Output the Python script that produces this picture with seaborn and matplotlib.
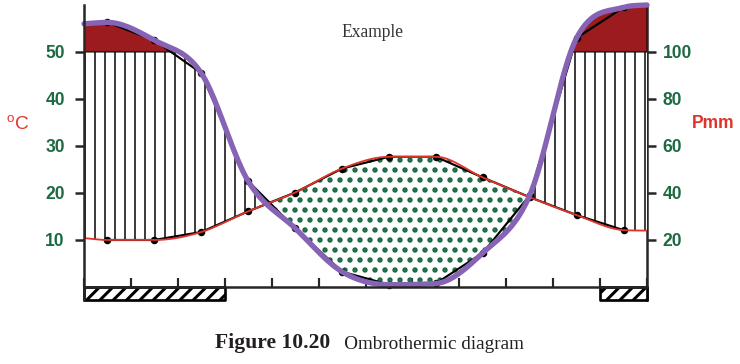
import numpy as np
import matplotlib
matplotlib.use('Agg')
import matplotlib.pyplot as plt
import seaborn as sns

# month centres and climate values
months_mid = np.arange(12) + 0.5
temp_c = [10.0, 10.0, 11.7, 16.1, 20.1, 25.2, 27.7, 27.7, 23.3, 19.1, 15.3, 12.1]
precip_mm = [112.6, 105, 91, 45, 25, 6.5, 1.0, 1.5, 14.5, 39, 106, 119]
temp_ends = [10.4, 12.0]      # where the smooth red curve meets the axes
precip_ends = [112, 120]      # where the smooth purple curve meets the axes
frost = [1, 1, 1, 0, 0, 0, 0, 0, 0, 0, 0, 1]
temp_ticks = [10, 20, 30, 40, 50]
precip_ticks = [20, 40, 60, 80, 100]

GREEN = '#1b6a42'
RED = '#e0342b'
PURPLE = '#8763b5'
DARKRED = '#9b1b1f'


def smooth(x, y, n=400):
    """monotone cubic curve (Fritsch-Carlson) starting from central-difference slopes"""
    x = np.asarray(x, float)
    y = np.asarray(y, float)
    h = np.diff(x)
    d = np.diff(y) / h
    m = np.empty_like(y)
    m[1:-1] = (y[2:] - y[:-2]) / (x[2:] - x[:-2])
    m[0], m[-1] = d[0], d[-1]
    for k in range(len(d)):
        if d[k] == 0:
            m[k] = m[k + 1] = 0
            continue
        a, b = m[k] / d[k], m[k + 1] / d[k]
        if a < 0:
            m[k] = a = 0
        if b < 0:
            m[k + 1] = b = 0
        if a * a + b * b > 9:
            tau = 3 / np.hypot(a, b)
            m[k], m[k + 1] = tau * a * d[k], tau * b * d[k]
    xs = np.linspace(x[0], x[-1], n)
    i = np.clip(np.searchsorted(x, xs) - 1, 0, len(h) - 1)
    t = (xs - x[i]) / h[i]
    ys = ((2 * t**3 - 3 * t**2 + 1) * y[i] + (t**3 - 2 * t**2 + t) * h[i] * m[i]
          + (-2 * t**3 + 3 * t**2) * y[i + 1] + (t**3 - t**2) * h[i] * m[i + 1])
    return xs, ys


sns.set_style('ticks')
plt.rcParams['font.family'] = ['Liberation Sans', 'DejaVu Sans']

fig = plt.figure(figsize=(740 / 120, 364 / 120), dpi=120)
ax = fig.add_axes([84 / 740, 64 / 364, 563 / 740, 295 / 364])

y_bottom = -2.77
ax.set_xlim(0, 12)
ax.set_ylim(y_bottom, 60)

x_full = np.r_[0, months_mid, 12]
xs, t_s = smooth(x_full, np.r_[temp_ends[0], temp_c, temp_ends[1]])
_, p_s = smooth(x_full, np.r_[precip_ends[0], precip_mm, precip_ends[1]])
p_half = p_s / 2  # precipitation on the temperature scale (P = 2T)

# humid period: vertical hatching
with plt.rc_context({'hatch.linewidth': 0.9, 'hatch.color': 'black'}):
    ax.fill_between(xs, t_s, np.minimum(p_half, 50), where=p_half > t_s, interpolate=True,
                    facecolor='white', edgecolor='black', hatch='||', linewidth=0, zorder=1)
# arid period: green dots
with plt.rc_context({'hatch.linewidth': 2.0, 'hatch.color': GREEN}):
    ax.fill_between(xs, p_half, t_s, where=t_s > p_half, interpolate=True,
                    facecolor='none', edgecolor=GREEN, hatch='..', linewidth=0, zorder=1)
# perhumid (> 100 mm)
ax.fill_between(xs, 50, p_half, where=p_half > 50, interpolate=True,
                facecolor=DARKRED, edgecolor='black', linewidth=0.6, zorder=1)

# raw polylines with points
sns.lineplot(x=months_mid, y=temp_c, color='black', lw=1.3, marker='o', markersize=4.5,
             markeredgewidth=0, ax=ax, zorder=3)
sns.lineplot(x=months_mid, y=np.array(precip_mm) / 2, color='black', lw=1.3, marker='o',
             markersize=4.5, markeredgewidth=0, ax=ax, zorder=3)
# smooth curves
sns.lineplot(x=xs, y=t_s, color=RED, lw=1.1, ax=ax, zorder=4)
sns.lineplot(x=xs, y=p_half, color=PURPLE, lw=3.2, ax=ax, zorder=5, clip_on=False)

# frost months bar under the axis
runs = []
start = None
for i, f in enumerate(frost + [0]):
    if f and start is None:
        start = i
    if not f and start is not None:
        runs.append((start, i - start))
        start = None
with plt.rc_context({'hatch.linewidth': 1.8, 'hatch.color': 'black'}):
    bars = ax.broken_barh(runs, (y_bottom, -y_bottom), facecolors='white',
                          edgecolors='black', linewidth=1.6, hatch='///', zorder=6)
bars.set_clip_on(False)

# axes styling
for s in ['top', 'right']:
    ax.spines[s].set_visible(False)
ax.spines['bottom'].set_position(('data', 0))
for s in ['left', 'bottom']:
    ax.spines[s].set_linewidth(1.5)
    ax.spines[s].set_zorder(7)
ax.set_xticks(range(13))
ax.tick_params(axis='x', direction='in', length=5.5, width=1.3, labelbottom=False)
ax.set_yticks(temp_ticks)
ax.tick_params(axis='y', direction='out', length=5.5, width=1.5, pad=6,
               labelsize=10.5, labelcolor=GREEN)
for lab in ax.get_yticklabels():
    lab.set_fontweight('bold')

sec = ax.secondary_yaxis('right', functions=(lambda t: 2 * t, lambda p: p / 2))
sec.set_yticks(precip_ticks)
sec.spines['right'].set_linewidth(1.5)
sec.tick_params(axis='y', direction='out', length=5.5, width=1.5, pad=4,
                labelsize=10.5, labelcolor=GREEN)
for lab in sec.get_yticklabels():
    lab.set_fontweight('bold')

ax.set_xlabel('')
ax.set_ylabel(r'$^{\mathregular{o}}$C', rotation=0, color=RED, fontsize=11.5,
              ha='center', va='center')
ax.yaxis.set_label_coords(-0.118, 0.593)
ax.text(1.117, 0.6, 'Pmm', transform=ax.transAxes, color=RED, fontsize=10.5,
        fontweight='bold', ha='center', va='center')

ax.text(0.513, 0.908, 'Example', transform=ax.transAxes, family='Liberation Serif',
        fontsize=10.5, color='#333333', ha='center', va='center')

t1 = fig.text(0.29, 0.03, 'Figure 10.20', family='Liberation Serif', fontweight='bold',
              fontsize=13, color='#231f20', ha='left', va='bottom')
ax.annotate('   Ombrothermic diagram', xy=(1, 0), xycoords=t1, family='Liberation Serif',
            fontsize=11.5, color='#231f20', ha='left', va='bottom', annotation_clip=False)

fig.savefig('out.png', dpi=120)
